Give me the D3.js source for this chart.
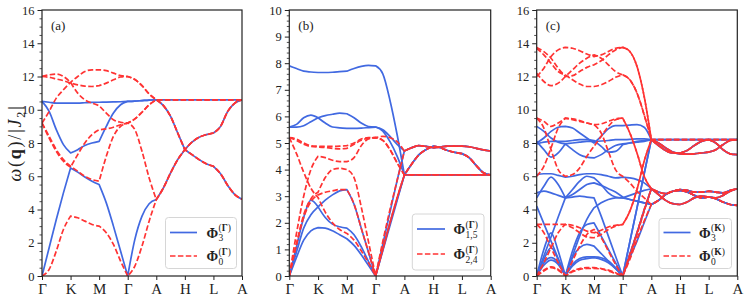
<!DOCTYPE html>
<html><head><meta charset="utf-8">
<script src="https://cdn.jsdelivr.net/npm/d3@7"></script>
<style>
body{margin:0;background:#fff}
svg{display:block}
text{font-family:"Liberation Serif","DejaVu Serif",serif;fill:#222}
</style>
</head><body>
<svg id="chart" width="748" height="302"></svg>
<script>
// ---------- path / axis data ----------
const kTicks  = [0,1,2,3,4,5,6,7];
const kLabels = ["Γ","K","M","Γ","A","H","L","A"];
const kGrid = [0,0.25,0.5,0.75,1,1.25,1.5,1.75,2,2.25,2.5,2.75,3,3.25,3.5,3.75,4,
               4.25,4.5,4.75,5,5.25,5.5,5.75,6,6.25,6.5,6.75,7];
const acYTicks = [0,2,4,6,8,10,12,14,16];
const bYTicks  = [0,1,2,3,4,5,6,7,8,9,10];

// ---------- panel (a) ----------
const aFlat = [10.6,10.6,10.6,10.6,10.6,10.6,10.6,10.6,10.6,10.6,10.6,10.6];
const aDesc = [10.25,9.6,8.6,7.6, 7.3,7.0,6.75,6.6, 6.15,5.45,4.9,4.62];
const aAsc  = [5.3,6.2,7.0,7.6, 8.05,8.35,8.5,8.6, 9.0,9.9,10.4,10.6];

const aB1 = [0,1.7,3.4,5.0,6.5, 6.25,5.95,5.7,5.5, 4.4,3.0,1.5,0, 2.2,3.6,4.35,4.6].concat(aAsc);
const aB2 = [10.5,9.9,8.8,7.9,7.4, 7.6,7.85,8.0,8.1, 9.0,9.8,10.3,10.5, 10.52,10.55,10.58,10.6].concat(aDesc);
const aB3 = [10.5,10.45,10.4,10.4,10.4, 10.4,10.42,10.44,10.45, 10.46,10.47,10.48,10.5, 10.52,10.55,10.58,10.6].concat(aFlat);
const aBlue = [aB1,aB2,aB3];

const aR1 = [12.0,12.1,12.15,12.0,11.65, 11.0,10.6,10.4,10.25, 9.8,9.4,9.25,9.2, 9.45,9.85,10.3,10.6].concat(aFlat);
const aR2 = [12.0,11.95,11.85,11.75,11.6, 11.5,11.42,11.4,11.45, 11.6,11.8,11.97,12.0, 11.82,11.45,10.95,10.6].concat(aDesc);
const aR3 = [9.2,9.9,10.7,11.2,11.65, 12.0,12.3,12.4,12.4, 12.35,12.2,12.05,12.0, 11.82,11.45,10.95,10.6].concat(aFlat);
const aR4 = [9.2,8.3,7.5,6.9,6.55, 7.3,8.0,8.5,8.8, 8.85,8.95,9.1,9.2, 8.8,7.5,5.9,4.6].concat(aAsc);
const aR5 = [9.2,8.4,7.6,7.0,6.6, 6.3,6.0,5.8,5.7, 7.2,8.4,9.0,9.2, 9.45,9.85,10.3,10.6].concat(aDesc);
const aR6 = [0,0.4,1.5,2.8,3.6, 3.5,3.3,3.1,3.0, 2.6,1.9,0.9,0, 0.6,1.8,3.3,4.6].concat(aAsc);
const aRed = [aR1,aR2,aR3,aR4,aR5,aR6];

// ---------- panel (b) ----------
const bFlat = [3.8,3.8,3.8,3.8,3.8,3.8,3.8,3.8,3.8,3.8,3.8,3.8];
const bL1 = [4.82,4.9,4.87,4.82, 4.85,4.88,4.88,4.88, 4.86,4.8,4.74,4.7];
const bL2 = [4.2,4.55,4.75,4.88, 4.82,4.72,4.65,4.6, 4.45,4.15,3.88,3.8];

const bB1 = [7.9,7.8,7.7,7.67,7.65, 7.65,7.66,7.68,7.7, 7.8,7.88,7.92,7.9, 7.6,6.6,5.3,3.8].concat(bFlat);
const bB2 = [5.6,5.7,5.95,6.05,5.95, 5.75,5.6,5.57,5.55, 5.55,5.56,5.58,5.6, 5.45,5.05,4.5,3.8].concat(bL2);
const bB3 = [5.6,5.6,5.65,5.8,5.95, 6.03,6.08,6.12,6.1, 5.95,5.75,5.62,5.6, 5.5,5.25,4.95,4.7].concat(bL1);
const bB4 = [0,1.1,2.2,2.85,2.6, 2.2,1.95,1.85,1.8, 1.55,1.1,0.55,0, 1.0,2.0,2.9,3.8].concat(bFlat);
const bB5 = [0,0.7,1.35,1.7,1.82, 1.8,1.7,1.55,1.4, 1.15,0.8,0.4,0, 0.95,1.9,2.85,3.8].concat(bL2);
const bB6 = [0,0.9,1.8,2.3,2.6, 2.85,3.05,3.2,3.25, 2.7,1.8,0.9,0, 1.2,2.4,3.6,4.7].concat(bL1);
const bBlue = [bB1,bB2,bB3,bB4,bB5,bB6];

const bR1 = [5.2,5.15,5.0,4.9,4.88, 4.87,4.87,4.88,4.9, 5.0,5.15,5.2,5.2, 5.25,5.2,5.05,4.7].concat(bL1);
const bR2 = [5.2,5.1,4.95,4.87,4.85, 4.83,4.8,4.78,4.8, 4.95,5.1,5.18,5.2, 5.1,4.75,4.25,3.8].concat(bL2);
const bR3 = [0,1.6,3.0,4.0,4.5, 4.45,4.35,4.3,4.3, 4.45,4.9,5.15,5.2, 5.1,4.75,4.25,3.8].concat(bFlat);
const bR4 = [0,1.2,2.3,2.9,3.15, 3.7,4.0,4.05,4.0, 3.7,2.6,1.3,0, 1.3,2.5,3.6,4.7].concat(bL1);
const bR5 = [0,1.2,2.2,2.8,3.05, 3.15,3.2,3.25,3.25, 2.7,1.8,0.9,0, 1.0,2.0,2.95,3.8].concat(bL2);
const bR6 = [5.2,4.6,3.9,3.3,2.95, 2.4,2.0,1.75,1.6, 1.35,0.95,0.5,0, 1.0,2.0,2.95,3.8].concat(bFlat);
const bRed = [bR1,bR2,bR3,bR4,bR5,bR6];

// ---------- panel (c) ----------
const cU1 = [8.2,8.2,8.2,8.2,8.2,8.2,8.2,8.2,8.2,8.2,8.2,8.2];
const cU2 = [7.85,7.55,7.4,7.4, 7.55,7.85,8.1,8.2, 8.0,7.6,7.35,7.3];
const cU3 = [8.0,7.7,7.45,7.35, 7.33,7.35,7.4,7.45, 7.6,7.9,8.15,8.2];
const cL1 = [5.05,4.95,5.1,5.2, 5.15,5.05,5.05,5.1, 5.05,5.0,5.15,5.25];
const cL2 = [4.9,4.55,4.35,4.3, 4.45,4.7,4.8,4.75, 4.7,4.85,5.1,5.25];
const cL3 = [4.55,4.9,5.1,5.15, 5.05,4.85,4.7,4.75, 4.65,4.45,4.3,4.25];

const cB1  = [9.0,8.7,8.3,8.05,7.95, 8.0,8.05,8.1,8.1, 8.12,8.15,8.2,8.2, 8.22,8.25,8.25,8.2].concat(cU1);
const cB2  = [8.0,8.3,8.7,8.95,9.0, 8.9,8.6,8.3,8.0, 8.4,8.85,9.05,9.05, 9.08,9.1,8.95,8.2].concat(cU2);
const cB3  = [8.1,7.6,7.15,7.4,7.95, 7.6,7.3,7.15,7.1, 7.3,7.6,7.85,7.95, 8.0,8.05,8.1,8.2].concat(cU3);
const cB4  = [7.95,8.05,8.1,8.1,8.1, 8.15,8.2,8.2,8.15, 7.8,7.45,7.5,7.9, 8.0,8.1,8.15,8.2].concat(cU1);
const cB5  = [6.1,6.15,6.15,6.05,5.95, 6.0,6.1,6.15,6.15, 6.1,6.0,5.9,5.95, 5.9,5.8,5.6,5.25].concat(cL1);
const cB6  = [4.7,5.4,5.95,5.5,4.7, 5.2,5.7,6.0,5.9, 5.5,5.0,4.75,4.7, 4.85,5.0,5.15,5.25].concat(cL2);
const cB7  = [5.0,5.1,5.0,4.85,4.7, 4.9,5.2,5.5,5.6, 5.45,5.25,5.05,4.75, 4.6,4.5,4.4,4.3].concat(cL3);
const cB8  = [4.2,3.15,2.1,1.05,0, 1.2,2.4,3.4,4.1, 4.4,4.6,4.7,4.7, 4.6,4.5,4.4,4.3].concat(cL3);
const cB9  = [0,1.2,2.35,3.55,4.7, 4.75,4.8,4.75,4.7, 3.6,2.4,1.2,0, 1.1,2.1,3.2,4.3].concat(cL3);
const cB10 = [0,0.8,1.1,0.8,0, 0.7,1.05,1.15,1.15, 1.1,0.9,0.5,0, 1.3,2.6,3.95,5.25].concat(cL1);
const cB11 = [0,0.65,0.95,0.7,0, 0.6,0.95,1.05,1.1, 1.0,0.8,0.45,0, 1.3,2.6,3.95,5.25].concat(cL2);
const cB12 = [0,1.6,2.6,1.5,0, 1.5,2.6,3.1,3.2, 2.4,1.6,0.8,0, 2.05,4.1,6.15,8.2].concat(cU2);
const cB13 = [0,1.0,1.7,1.0,0, 1.1,1.7,1.9,1.8, 1.35,0.9,0.45,0, 2.05,4.1,6.15,8.2].concat(cU3);
const cBlue = [cB1,cB2,cB3,cB4,cB5,cB6,cB7,cB8,cB9,cB10,cB11,cB12,cB13];

const cR1  = [13.75,13.5,13.1,12.5,12.0, 12.05,12.3,12.55,12.7, 12.95,13.3,13.6,13.75, 13.5,12.6,10.8,8.2].concat(cU1);
const cR2  = [12.0,12.5,13.2,13.6,13.75, 13.7,13.55,13.35,13.2, 13.3,13.5,13.7,13.75, 13.5,12.6,10.8,8.2].concat(cU2);
const cR3  = [12.2,11.7,11.45,11.6,12.0, 12.4,12.8,13.1,13.3, 13.1,12.7,12.3,12.1, 11.8,11.0,9.7,8.2].concat(cU3);
const cR4  = [13.7,13.3,12.8,12.3,12.1, 11.8,11.55,11.4,11.4, 11.5,11.7,11.95,12.1, 11.8,11.0,9.7,8.2].concat(cU1);
const cR5  = [9.5,8.9,7.6,6.4,6.0, 6.1,6.5,7.2,7.8, 8.4,9.0,9.4,9.5, 8.6,7.4,6.0,5.25].concat(cL1);
const cR6  = [9.5,9.3,9.0,9.2,9.5, 9.4,9.3,9.2,9.1, 8.6,7.5,6.4,6.0, 5.6,5.1,4.7,4.3].concat(cL3);
const cR7  = [6.0,6.6,7.7,8.9,9.5, 9.45,9.35,9.2,9.1, 9.15,9.3,9.45,9.5, 8.6,7.4,6.0,5.25].concat(cL2);
const cR8  = [3.1,3.1,3.1,3.1,3.1, 3.05,2.9,2.7,2.6, 2.75,2.95,3.05,3.1, 3.9,5.2,6.9,8.2].concat(cU3);
const cR9  = [3.1,2.6,1.7,0.8,0, 0.9,1.8,2.5,2.8, 2.3,1.5,0.7,0, 1.3,2.6,4.0,5.25].concat(cL2);
const cR10 = [0,0.8,1.7,2.6,3.1, 2.9,2.6,2.35,2.3, 2.5,2.8,3.0,3.1, 3.9,5.2,6.9,8.2].concat(cU2);
const cR11 = [0,0.35,0.55,0.4,0, 0.3,0.45,0.5,0.5, 0.45,0.35,0.2,0, 1.2,2.5,3.9,5.25].concat(cL1);
const cR12 = [0,0.3,0.5,0.35,0, 0.25,0.4,0.45,0.45, 0.42,0.3,0.15,0, 1.0,2.2,3.3,4.3].concat(cL3);
const cRed = [cR1,cR2,cR3,cR4,cR5,cR6,cR7,cR8,cR9,cR10,cR11,cR12];

// ---------- drawing ----------
const BLUE = "#4169e1", RED = "#ff3333";
const svg = d3.select("#chart");
const Y0 = 10, Y1 = 276;

const panels = [
  {x0:42, x1:242, yMax:16, ticks:acYTicks, minor:0.5, blue:aBlue, red:aRed, tag:"(a)",
   box:[165.5,217.5,71,51], lx:[170,197], rows:[232.5,256], tx:206.5,
   sub:["3","0"], sup:"Γ"},
  {x0:289.3, x1:490.7, yMax:10, ticks:bYTicks, minor:0.2, blue:bBlue, red:bRed, tag:"(b)",
   box:[412.3,214,71.7,56], lx:[417,445], rows:[229,254], tx:453.5,
   sub:["1,5","2,4"], sup:"Γ"},
  {x0:536.7, x1:737.3, yMax:16, ticks:acYTicks, minor:0.5, blue:cBlue, red:cRed, tag:"(c)",
   box:[659,218.5,72.5,50], lx:[663.5,690.5], rows:[232.5,256], tx:699,
   sub:["3","0"], sup:"K"}
];

function bandPath(vals, x, y) {
  let d = "";
  const line = d3.line().x(p => x(p[0])).y(p => y(p[1])).curve(d3.curveMonotoneX);
  for (let s = 0; s < 7; s++) {
    const pts = [];
    for (let i = s*4; i <= s*4+4; i++) pts.push([kGrid[i], vals[i]]);
    let seg = line(pts);
    if (s > 0) seg = seg.replace(/^M/, "L");
    d += seg;
  }
  return d;
}

function legendLabel(g, x, y, sub, sup) {
  const t = g.append("text").attr("x", x).attr("y", y)
    .attr("font-size", 14).attr("font-weight", "bold").text("Φ");
  const w = t.node().getComputedTextLength();
  const xs = x + w + 0.5;
  g.append("text").attr("x", xs).attr("y", y + 3.5).attr("font-size", 9.5).text(sub);
  const sp = g.append("text").attr("x", xs).attr("y", y - 6.5).attr("font-size", 9.5);
  sp.append("tspan").text("(");
  sp.append("tspan").attr("font-weight", "bold").text(sup);
  sp.append("tspan").text(")");
}

panels.forEach((P, pi) => {
  const x = d3.scaleLinear().domain([0, 7]).range([P.x0, P.x1]);
  const y = d3.scaleLinear().domain([0, P.yMax]).range([Y1, Y0]);
  const g = svg.append("g");
  const clipId = "clip" + pi;
  svg.append("clipPath").attr("id", clipId).append("rect")
    .attr("x", P.x0).attr("y", Y0).attr("width", P.x1 - P.x0).attr("height", Y1 - Y0);

  const plot = g.append("g").attr("clip-path", `url(#${clipId})`);
  plot.selectAll("path.blue").data(P.blue).join("path").attr("class", "blue")
    .attr("d", d => bandPath(d, x, y)).attr("fill", "none")
    .attr("stroke", BLUE).attr("stroke-width", 1.7).attr("stroke-linejoin", "round");
  plot.selectAll("path.red").data(P.red).join("path").attr("class", "red")
    .attr("d", d => bandPath(d, x, y)).attr("fill", "none")
    .attr("stroke", RED).attr("stroke-width", 1.7).attr("stroke-dasharray", "5.5,2.4");

  // axes
  const minors = d3.range(0, P.yMax + 1e-6, P.minor).filter(v => P.ticks.indexOf(+v.toFixed(3)) < 0);
  const ax = g.append("g").attr("transform", `translate(${P.x0},0)`)
    .call(d3.axisLeft(y).tickValues(P.ticks).tickSize(4.5).tickPadding(3).tickFormat(d3.format("d")));
  ax.select(".domain").remove();
  ax.selectAll("text").attr("font-size", 12.5).attr("font-family", "Liberation Serif, serif").attr("fill", "#222");
  ax.selectAll("line").attr("stroke", "#222").attr("stroke-width", 1);
  const axm = g.append("g").attr("transform", `translate(${P.x0},0)`)
    .call(d3.axisLeft(y).tickValues(minors).tickSize(2.5).tickFormat(""));
  axm.select(".domain").remove();
  axm.selectAll("line").attr("stroke", "#222").attr("stroke-width", 0.8);

  const bx = g.append("g").attr("transform", `translate(0,${Y1})`)
    .call(d3.axisBottom(x).tickValues(kTicks).tickSize(4).tickPadding(3).tickFormat((d, i) => kLabels[i]));
  bx.select(".domain").remove();
  bx.selectAll("text").attr("font-size", 15).attr("font-family", "Liberation Serif, serif").attr("fill", "#222");
  bx.selectAll("line").attr("stroke", "#222").attr("stroke-width", 1);

  // frame
  g.append("rect").attr("x", P.x0).attr("y", Y0).attr("width", P.x1 - P.x0).attr("height", Y1 - Y0)
    .attr("fill", "none").attr("stroke", "#222").attr("stroke-width", 1.2);

  // panel tag
  g.append("text").attr("x", P.x0 + 9).attr("y", 29.5).attr("font-size", 13).text(P.tag);

  // legend
  const L = g.append("g");
  L.append("rect").attr("x", P.box[0]).attr("y", P.box[1]).attr("width", P.box[2]).attr("height", P.box[3])
    .attr("rx", 3).attr("fill", "#fff").attr("fill-opacity", 0.85).attr("stroke", "#d6d6d6").attr("stroke-width", 1);
  L.append("line").attr("x1", P.lx[0]).attr("x2", P.lx[1]).attr("y1", P.rows[0]).attr("y2", P.rows[0])
    .attr("stroke", BLUE).attr("stroke-width", 1.7);
  L.append("line").attr("x1", P.lx[0]).attr("x2", P.lx[1]).attr("y1", P.rows[1]).attr("y2", P.rows[1])
    .attr("stroke", RED).attr("stroke-width", 1.7).attr("stroke-dasharray", "5.5,2.4");
  legendLabel(L, P.tx, P.rows[0] + 5, P.sub[0], P.sup);
  legendLabel(L, P.tx, P.rows[1] + 5, P.sub[1], P.sup);
});

// y-axis label
const yl = svg.append("text").attr("transform", "translate(21,143) rotate(-90)")
  .attr("text-anchor", "middle").attr("font-size", 18).attr("letter-spacing", 1.8);
yl.append("tspan").attr("font-style", "italic").text("ω");
yl.append("tspan").text("(");
yl.append("tspan").attr("font-weight", "bold").text("q");
yl.append("tspan").text(")/|");
yl.append("tspan").attr("font-style", "italic").text("J");
yl.append("tspan").attr("font-size", 12).attr("dy", 3.5).text("2");
yl.append("tspan").attr("dy", -3.5).text("|");
</script>
</body></html>
